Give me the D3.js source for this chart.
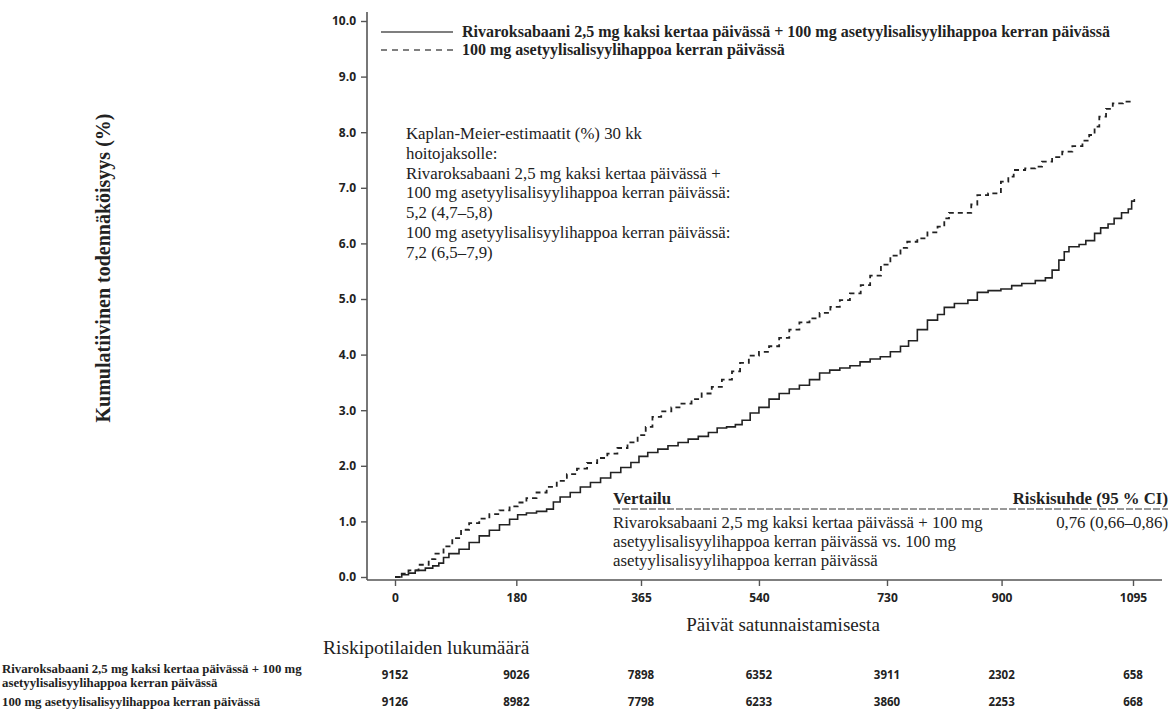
<!DOCTYPE html>
<html><head><meta charset="utf-8">
<script src="https://cdn.jsdelivr.net/npm/d3@7"></script>
<style>
body{margin:0;background:#fff;}
svg{display:block;}
.serif{font-family:"Liberation Serif","Times New Roman",serif;}
.sans{font-family:"Open Sans","DejaVu Sans",sans-serif;}
</style></head>
<body><svg id="chart" width="1170" height="720"></svg>
<script>
// ---- data ----
const seriesNames = [
  "Rivaroksabaani 2,5 mg kaksi kertaa päivässä + 100 mg asetyylisalisyylihappoa kerran päivässä",
  "100 mg asetyylisalisyylihappoa kerran päivässä"
];
const riskRowLabels = [
  ["Rivaroksabaani 2,5 mg kaksi kertaa päivässä + 100 mg", "asetyylisalisyylihappoa kerran päivässä"],
  ["100 mg asetyylisalisyylihappoa kerran päivässä"]
];
const xTickValues = [0, 180, 365, 540, 730, 900, 1095];
const yTickValues = [0,1,2,3,4,5,6,7,8,9,10];
const riskRiva = [9152, 9026, 7898, 6352, 3911, 2302, 658];
const riskAsa  = [9126, 8982, 7798, 6233, 3860, 2253, 668];

const rivaDays = [0,10,20,30,45,56,65,72,80,95,110,125,140,155,170,182,195,210,225,235,245,260,275,290,305,320,335,350,362,375,390,405,420,435,450,465,478,492,505,515,527,540,555,570,585,600,615,630,645,660,675,690,705,720,735,750,762,775,790,805,815,830,850,864,880,899,915,930,950,965,975,985,993,1000,1015,1025,1038,1047,1058,1067,1078,1088,1093,1097];
const rivaVals = [0,0.04,0.07,0.12,0.16,0.2,0.25,0.35,0.42,0.5,0.62,0.74,0.84,0.94,1.04,1.12,1.15,1.18,1.22,1.35,1.44,1.52,1.62,1.7,1.78,1.88,1.97,2.06,2.17,2.24,2.3,2.36,2.42,2.48,2.53,2.6,2.68,2.7,2.74,2.82,2.95,3.05,3.2,3.3,3.38,3.45,3.55,3.67,3.72,3.76,3.8,3.87,3.92,3.96,4.05,4.15,4.25,4.45,4.62,4.72,4.85,4.92,4.98,5.12,5.15,5.18,5.24,5.28,5.33,5.38,5.52,5.7,5.85,5.94,5.98,6.05,6.18,6.28,6.35,6.45,6.55,6.62,6.76,6.8];

const asaDays = [0,10,20,35,50,60,72,85,98,110,125,140,155,170,182,195,210,225,240,255,270,285,300,315,330,345,360,372,382,395,410,425,440,455,470,485,500,512,525,540,555,570,585,600,615,630,646,660,675,691,705,721,735,750,760,775,790,805,815,822,845,855,864,880,899,910,918,935,950,960,975,990,1005,1020,1030,1038,1045,1055,1065,1080,1097];
const asaVals = [0,0.06,0.12,0.22,0.32,0.42,0.55,0.7,0.85,0.97,1.05,1.13,1.2,1.27,1.34,1.42,1.52,1.62,1.73,1.85,1.95,2.05,2.14,2.22,2.32,2.42,2.55,2.7,2.88,2.98,3.05,3.12,3.2,3.3,3.42,3.55,3.7,3.85,3.98,4.05,4.15,4.3,4.45,4.58,4.65,4.75,4.86,4.98,5.1,5.25,5.42,5.62,5.78,5.92,6.03,6.09,6.2,6.3,6.45,6.55,6.55,6.7,6.87,6.9,7.11,7.2,7.32,7.35,7.38,7.47,7.55,7.65,7.75,7.85,7.95,8.1,8.28,8.42,8.52,8.55,8.55];

const kmText = [
  "Kaplan-Meier-estimaatit (%) 30 kk",
  "hoitojaksolle:",
  "Rivaroksabaani 2,5 mg kaksi kertaa päivässä +",
  "100 mg asetyylisalisyylihappoa kerran päivässä:",
  "5,2 (4,7–5,8)",
  "100 mg asetyylisalisyylihappoa kerran päivässä:",
  "7,2 (6,5–7,9)"
];
const compHeader = ["Vertailu", "Riskisuhde (95 % CI)"];
const compLines = [
  "Rivaroksabaani 2,5 mg kaksi kertaa päivässä + 100 mg",
  "asetyylisalisyylihappoa kerran päivässä vs. 100 mg",
  "asetyylisalisyylihappoa kerran päivässä"
];
const compHR = "0,76 (0,66–0,86)";
const xTitle = "Päivät satunnaistamisesta";
const yTitle = "Kumulatiivinen todennäköisyys (%)";
const riskTitle = "Riskipotilaiden lukumäärä";

// ---- drawing ----
const svg = d3.select("#chart");
const x = d3.scaleLinear().domain([0, 1095]).range([395, 1133]);
const y = d3.scaleLinear().domain([0, 10]).range([577, 21]);
const axisColor = "#555";
const textColor = "#222";
const xAxisY = 580, yAxisX = 367;

// axis lines
svg.append("line").attr("x1", yAxisX).attr("x2", yAxisX).attr("y1", 12).attr("y2", xAxisY)
  .attr("stroke", axisColor).attr("stroke-width", 1.6);
svg.append("line").attr("x1", yAxisX).attr("x2", 1162).attr("y1", xAxisY).attr("y2", xAxisY)
  .attr("stroke", axisColor).attr("stroke-width", 1.6);

const yAxis = svg.append("g").attr("transform", `translate(${yAxisX},0)`)
  .call(d3.axisLeft(y).tickValues(yTickValues).tickFormat(d3.format(".1f")).tickSize(6).tickPadding(5));
yAxis.select(".domain").remove();
yAxis.selectAll("line").attr("stroke", axisColor).attr("stroke-width", 1.4);
yAxis.selectAll("text").attr("class", "sans").attr("font-size", 12).attr("font-weight", "bold").attr("fill", textColor);

const xAxis = svg.append("g").attr("transform", `translate(0,${xAxisY})`)
  .call(d3.axisBottom(x).tickValues(xTickValues).tickFormat(d3.format("d")).tickSize(6).tickPadding(7));
xAxis.select(".domain").remove();
xAxis.selectAll("line").attr("stroke", axisColor).attr("stroke-width", 1.4);
xAxis.selectAll("text").attr("class", "sans").attr("font-size", 12).attr("font-weight", "bold").attr("fill", textColor);

// curves
const line = d3.line().x(d => x(d[0])).y(d => y(d[1])).curve(d3.curveStepAfter);
const rivaData = rivaDays.map((d, i) => [d, rivaVals[i]]);
const asaData = asaDays.map((d, i) => [d, asaVals[i]]);
svg.append("path").datum(asaData).attr("d", line).attr("fill", "none")
  .attr("stroke", "#222").attr("stroke-width", 1.8).attr("stroke-dasharray", "5,4");
svg.append("path").datum(rivaData).attr("d", line).attr("fill", "none")
  .attr("stroke", "#222").attr("stroke-width", 1.6);

// legend
const leg = svg.append("g");
seriesNames.forEach((name, i) => {
  const ly = 32 + i * 18;
  leg.append("line").attr("x1", 381).attr("x2", 453).attr("y1", ly).attr("y2", ly)
    .attr("stroke", "#555").attr("stroke-width", 1.6)
    .attr("stroke-dasharray", i === 1 ? "6,5" : null);
  leg.append("text").attr("class", "serif").attr("x", 462).attr("y", ly + 5)
    .attr("font-size", 16).attr("font-weight", "bold").attr("fill", textColor).text(name);
});

// KM annotation
const km = svg.append("g").attr("class", "serif").attr("font-size", 16.8).attr("fill", textColor);
kmText.forEach((t, i) => {
  km.append("text").attr("x", 406).attr("y", 139 + i * 19.8).text(t);
});

// comparison box
const cmp = svg.append("g").attr("class", "serif").attr("fill", textColor);
cmp.append("text").attr("x", 613).attr("y", 504).attr("font-size", 16.8).attr("font-weight", "bold").text(compHeader[0]);
cmp.append("text").attr("x", 1168).attr("y", 504).attr("text-anchor", "end").attr("font-size", 16.8).attr("font-weight", "bold").text(compHeader[1]);
cmp.append("line").attr("x1", 613).attr("x2", 1168).attr("y1", 509).attr("y2", 509)
  .attr("stroke", "#333").attr("stroke-width", 1).attr("stroke-dasharray", "7,2");
compLines.forEach((t, i) => {
  cmp.append("text").attr("x", 613).attr("y", 528 + i * 19).attr("font-size", 16.8).text(t);
});
cmp.append("text").attr("x", 1168).attr("y", 528).attr("text-anchor", "end").attr("font-size", 16.8).text(compHR);

// axis titles
svg.append("text").attr("class", "serif").attr("x", 783).attr("y", 631).attr("text-anchor", "middle")
  .attr("font-size", 19).attr("fill", textColor).text(xTitle);
svg.append("text").attr("class", "serif").attr("transform", "translate(110,268) rotate(-90)")
  .attr("text-anchor", "middle").attr("font-size", 20).attr("font-weight", "bold").attr("fill", textColor).text(yTitle);

// risk table
svg.append("text").attr("class", "serif").attr("x", 323).attr("y", 654)
  .attr("font-size", 19.5).attr("fill", textColor).text(riskTitle);
const rowY = [675, 702];
riskRowLabels.forEach((lines, r) => {
  lines.forEach((t, j) => {
    const ty = lines.length === 1 ? rowY[r] + 4 : rowY[r] - 2 + j * 13.5;
    svg.append("text").attr("class", "serif").attr("x", 2).attr("y", ty)
      .attr("font-size", 12.8).attr("font-weight", "bold").attr("fill", textColor).text(t);
  });
});
[riskRiva, riskAsa].forEach((vals, r) => {
  svg.append("g").selectAll("text").data(vals).join("text")
    .attr("class", "sans").attr("x", (d, i) => x(xTickValues[i])).attr("y", rowY[r] + 4)
    .attr("text-anchor", "middle").attr("font-size", 11.5).attr("font-weight", "bold")
    .attr("fill", textColor).text(d => d);
});
</script></body></html>
